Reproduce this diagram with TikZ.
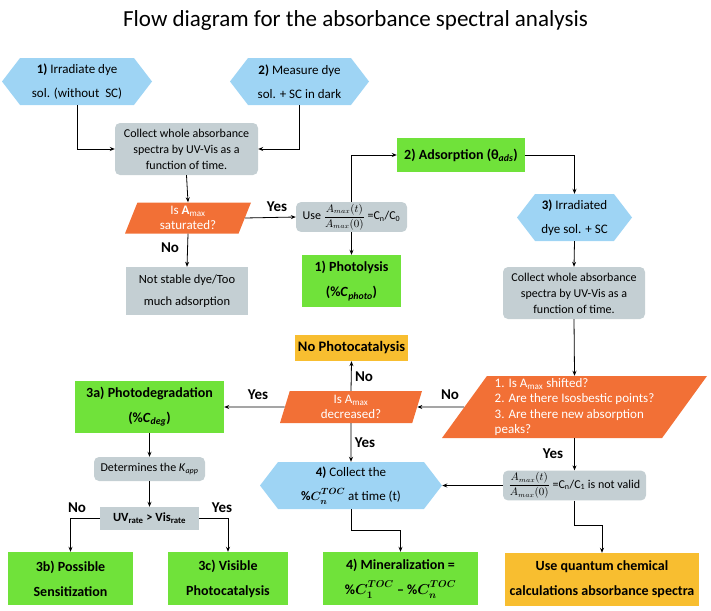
\documentclass[tikz,border=0pt]{standalone}
\usepackage{amsmath}
\usepackage{fontspec}
\setmainfont{Carlito}
\usetikzlibrary{arrows.meta,shapes.geometric,shapes.symbols}

\definecolor{hexblue}{RGB}{158,212,244}
\definecolor{boxgray}{RGB}{196,207,211}
\definecolor{boxgreen}{RGB}{112,226,58}
\definecolor{askorange}{RGB}{242,112,54}
\definecolor{endyellow}{RGB}{248,190,48}

\newcommand{\ampratio}{{\fontsize{10.5}{11}\selectfont$\dfrac{A_{max}(t)}{A_{max}(0)}$}}
\newcommand{\tocval}[1]{$\boldsymbol{C_{\vphantom{T}#1}^{\vphantom{y}TOC}}$}

\tikzset{
  hexbox/.style={shape=signal, signal to=east and west, signal pointer angle=105,
    fill=hexblue, inner sep=1pt, align=center, font=\fontsize{13}{24}\selectfont},
  graybox/.style={rectangle, rounded corners=5pt, fill=boxgray, inner sep=2pt,
    align=center, font=\fontsize{12}{16}\selectfont},
  plainbox/.style={rectangle, fill=boxgray, inner sep=2pt, align=center,
    font=\fontsize{12.5}{22}\selectfont},
  greenbox/.style={rectangle, fill=boxgreen, inner sep=2pt, align=center,
    font=\bfseries\fontsize{14}{25}\selectfont},
  askbox/.style={trapezium, trapezium stretches body, fill=askorange, text=white,
    inner sep=1pt, align=center, font=\fontsize{13}{15}\selectfont},
  endbox/.style={rectangle, fill=endyellow, inner sep=2pt, align=center,
    font=\bfseries\fontsize{14}{25}\selectfont},
  tag/.style={font=\bfseries\fontsize{15}{17}\selectfont},
  arr/.style={-{Stealth[length=5pt,width=4pt]}, line width=0.8pt}
}

\begin{document}
\begin{tikzpicture}[x=1pt, y=-1pt]

        \useasboundingbox (0,0) rectangle (711,610);

        % Title
        \node[font=\fontsize{23}{26}\selectfont] (title) at (355.5,20) {Flow diagram for the absorbance spectral analysis};

        % Top: the two starting samples
        \node[hexbox, minimum width=150pt, minimum height=47pt] (irr) at (77,81.5) {\textbf{1)} Irradiate dye\\sol. (without~~SC)};
        \node[hexbox, minimum width=139pt, minimum height=47pt] (dark) at (299.5,81.5) {\textbf{2)} Measure dye\\sol. + SC in dark};

        \node[graybox, minimum width=143pt, minimum height=52pt] (spec) at (186.5,149) {Collect whole absorbance\\spectra by UV-Vis as a\\function of time.};

        % Saturation check
        \node[askbox, trapezium left angle=64, trapezium right angle=116, minimum width=126pt, minimum height=31pt] (sat) at (188,218) {Is \textbf{A}\textsubscript{max}\\saturated?};
        \node[graybox, minimum width=111pt, minimum height=28pt] (use) at (351.5,217) {Use \ampratio{} =C\textsubscript{n}/C\textsubscript{0}};
        \node[plainbox, minimum width=122pt, minimum height=48pt] (unstable) at (187,291) {Not stable dye/Too\\much adsorption};
        \node[greenbox, minimum width=99pt, minimum height=52pt] (photol) at (351.5,281) {1) Photolysis\\(\%\textit{C}\textsubscript{\textit{photo}})};
        \node[greenbox, minimum width=128pt, minimum height=34pt] (adsorb) at (461,155) {2) Adsorption (θ\textsubscript{\textit{ads}})};

        % Irradiated dye with SC
        \node[hexbox, minimum width=115pt, minimum height=47pt] (irrsc) at (574.5,217.5) {\textbf{3)} Irradiated\\dye sol. + SC};
        \node[graybox, minimum width=142pt, minimum height=52pt] (specsc) at (574,293) {Collect whole absorbance\\spectra by UV-Vis as a\\function of time.};
        \node[askbox, trapezium left angle=53, trapezium right angle=127, minimum width=265pt, minimum height=62pt, align=left, font=\fontsize{13}{15.5}\selectfont] (shift) at (574.5,407) {1. Is A\textsubscript{max} shifted?\\2. Are there Isosbestic points?\\3. Are there new absorption\\peaks?};

        % Decrease check
        \node[askbox, trapezium left angle=69, trapezium right angle=111, minimum width=142pt, minimum height=32pt] (decr) at (351,407) {Is A\textsubscript{max}\\decreased?};
        \node[endbox, font=\bfseries\fontsize{14.5}{17}\selectfont, minimum width=113pt, minimum height=26pt] (nocat) at (351.5,348) {No Photocatalysis};
        \node[greenbox, minimum width=149pt, minimum height=52pt] (degr) at (149.5,407) {3a) Photodegradation\\(\%\textit{C}\textsubscript{\textit{deg}})};
        \node[graybox, minimum width=111pt, minimum height=24pt] (kapp) at (149.5,469) {Determines the \textit{K}\textsubscript{\textit{app}}};
        \node[plainbox, font=\bfseries\fontsize{12.5}{14}\selectfont, minimum width=99pt, minimum height=23pt] (rate) at (149.5,518.5) {UV\textsubscript{rate} > Vis\textsubscript{rate}};
        \node[greenbox, minimum width=125pt, minimum height=53pt] (sens) at (70.5,578.5) {3b) Possible\\Sensitization};
        \node[greenbox, minimum width=120pt, minimum height=53pt] (viscat) at (228,578.5) {3c) Visible\\Photocatalysis};

        % TOC branch
        \node[hexbox, minimum width=182pt, minimum height=47pt] (toc) at (351,485.5) {\textbf{4)} Collect the\\\textbf{\%}\tocval{n} at time (t)};
        \node[greenbox, minimum width=155pt, minimum height=53pt] (miner) at (400.5,578.5) {4) Mineralization =\\\%\tocval{1} -- \%\tocval{n}};
        \node[graybox, minimum width=143pt, minimum height=27pt] (invalid) at (574.5,485.5) {\ampratio{} =C\textsubscript{n}/C\textsubscript{1} is not valid};
        \node[endbox, minimum width=194pt, minimum height=53pt] (quant) at (602,579.5) {Use quantum chemical\\calculations absorbance spectra};

        % Bends
        \coordinate (tocbend) at (351,530);
        \coordinate (invbend) at (574.5,525);

        % Connectors
        \draw[arr] (irr.south) |- (spec.west);
        \draw[arr] (dark.south) |- (spec.east);
        \draw[arr] (spec.south) -- (sat.north);
        \draw[arr] (sat.east) -- (use.west);
        \draw[arr] (sat.south) -- (unstable.north);
        \draw[arr] (use.north) |- (adsorb.west);
        \draw[arr] (use.south) -- (photol.north);
        \draw[arr] (adsorb.east) -| (irrsc.north);
        \draw[arr] (irrsc.south) -- (specsc.north);
        \draw[arr] (specsc.south) -- (shift.north);
        \draw[arr] (shift.west) -- (decr.east);
        \draw[arr] (shift.south) -- (invalid.north);
        \draw[arr] (decr.north) -- (nocat.south);
        \draw[arr] (decr.west) -- (degr.east);
        \draw[arr] (decr.south) -- (toc.north);
        \draw[arr] (degr.south) -- (kapp.north);
        \draw[arr] (kapp.south) -- (rate.north);
        \draw[arr] (rate.west) -| (sens.north);
        \draw[arr] (rate.east) -| (viscat.north);
        \draw[arr] (invalid.west) -- (toc.east);
        \draw[arr] (toc.south) -- (tocbend) -| (miner.north);
        \draw[arr] (invalid.south) -- (invbend) -| (quant.north);

        % Yes / No labels
        \node[tag] (yes1) at (277,207) {Yes};
        \node[tag] (no1) at (170,248) {No};
        \node[tag] (no2) at (450,395) {No};
        \node[tag] (no3) at (364,377) {No};
        \node[tag] (yes2) at (258,395) {Yes};
        \node[tag] (yes3) at (365,443) {Yes};
        \node[tag] (yes4) at (553,454) {Yes};
        \node[tag] (no4) at (77,508) {No};
        \node[tag] (yes5) at (222,508) {Yes};

    \end{tikzpicture}
\end{document}
